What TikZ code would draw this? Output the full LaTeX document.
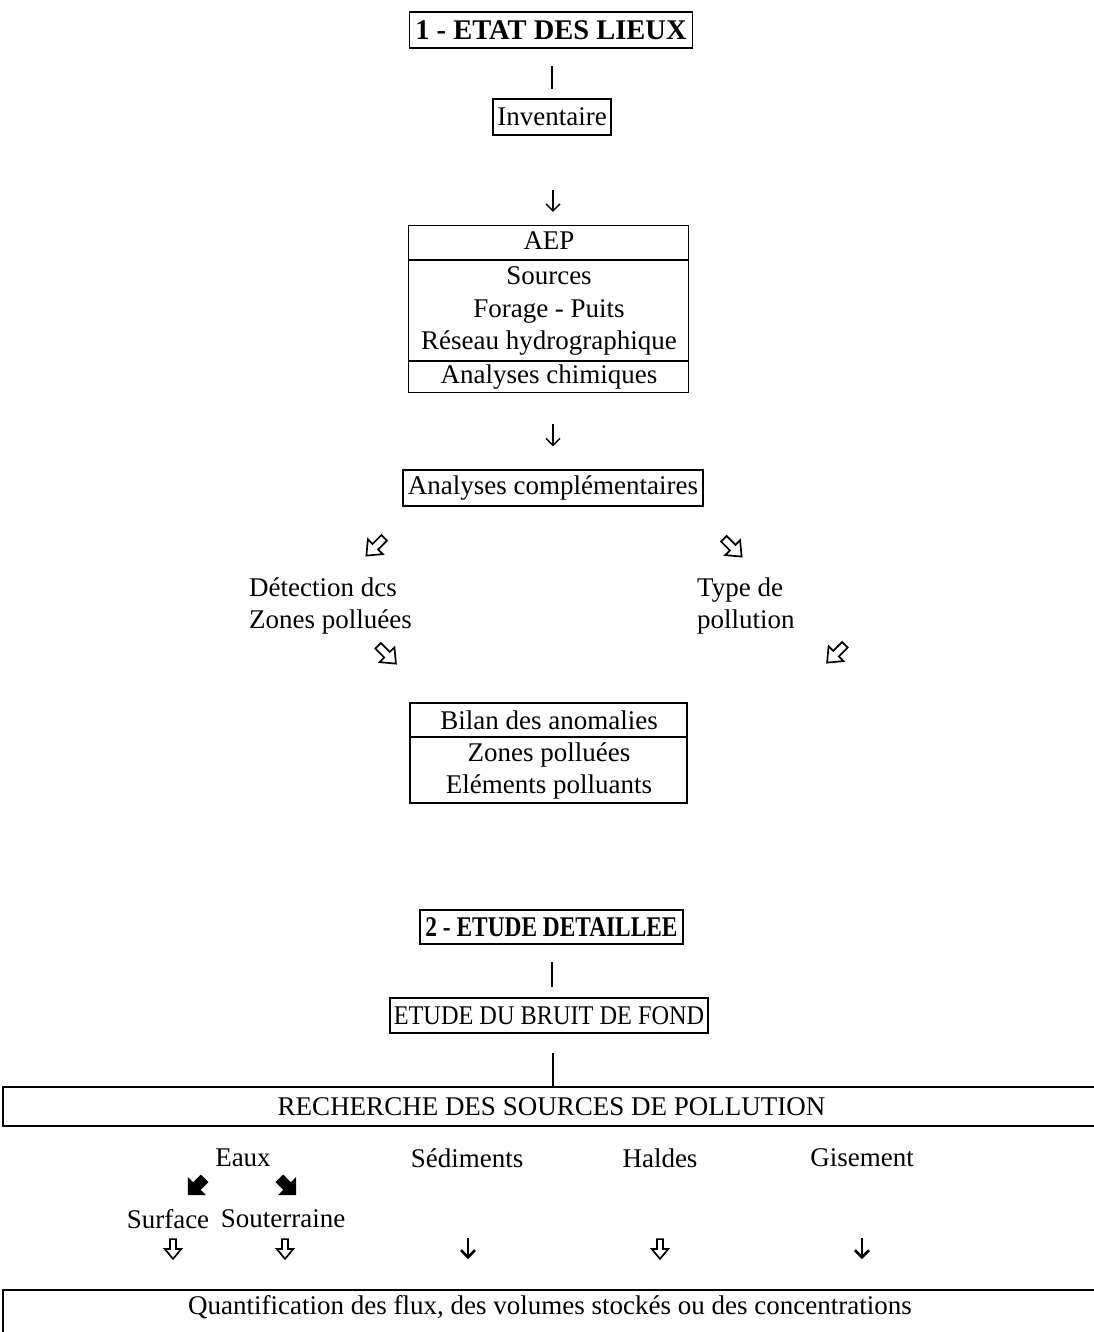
\documentclass[tikz,border=0pt]{standalone}
\usepackage{fontspec}
\usepackage{graphicx}
\setmainfont{Liberation Serif}
\usetikzlibrary{arrows.meta,calc,positioning}
\newcommand{\bigtxt}{\fontsize{27}{32.5}\selectfont}
\tikzset{
        block/.style = {draw, rectangle, line width=1.4pt,
            inner sep=0pt, font=\bigtxt},
        stage/.style = {block, line width=1.6pt, font=\fontsize{28.5}{33}\selectfont\bfseries},
        txt/.style = {inner sep=0pt, font=\bigtxt},
        link/.style = {draw, line width=1.8pt},
        arrow/.style = {draw, line width=1.4pt, -{Straight Barb[length=7pt,width=14pt]}},
        heavyarrow/.style = {arrow, line width=2.6pt},
        hollowarrow/.pic = {\draw[line width=1.7pt, line join=miter]
            (-2.8,9) -- (2.8,9) -- (2.8,0) -- (7.5,0) -- (0,-9) -- (-7.5,0) -- (-2.8,0) -- cycle;},
        blackarrow/.pic = {\fill
            (-4,8) -- (4,8) -- (4,0) -- (9.5,0) -- (0,-9.5) -- (-9.5,0) -- (-4,0) -- cycle;},
    }

\begin{document}
\begin{tikzpicture}[x=1pt, y=1pt]
    \useasboundingbox (0,0) rectangle (1093,-1332);

    % 1 - etat des lieux
    \node[stage, minimum width=283, minimum height=36] (etat) at (551,-30) {1 - ETAT DES LIEUX};
    \node[block, minimum width=118, minimum height=36] (inv) at (552,-117) {Inventaire};
    \node[block, minimum width=280, minimum height=167] (aep) at (548.5,-309) {};
    \node[txt] (aep1) at (549,-241) {AEP};
    \node[txt, align=center] (aep2) at (549,-311) {Sources\\Forage - Puits\\Réseau hydrographique};
    \node[txt] (aep3) at (549,-377) {Analyses chimiques};
    \draw[line width=1.4pt] ($(aep.west)+(0,49)$) -- ($(aep.east)+(0,49)$);
    \draw[line width=1.4pt] ($(aep.west)+(0,-52)$) -- ($(aep.east)+(0,-52)$);
    \node[block, minimum width=300, minimum height=36] (comp) at (553,-488) {Analyses complémentaires};

    \node[txt, align=left, anchor=west] (zones) at (249,-606) {Détection dcs\\Zones polluées};
    \node[txt, align=left, anchor=west] (type) at (697,-606) {Type de\\pollution};

    \node[block, minimum width=277, minimum height=100] (bilan) at (548.5,-753) {};
    \node[txt] (bilan1) at (549,-720) {Bilan des anomalies};
    \node[txt, align=center] (bilan2) at (549,-771) {Zones polluées\\Eléments polluants};
    \draw[line width=1.4pt] ($(bilan.west)+(0,16)$) -- ($(bilan.east)+(0,16)$);

    \draw[link] ($(inv.north)+(0,32)$) -- ($(inv.north)+(0,9)$);
    \draw[arrow] ($(aep.north)+(4.5,35)$) -- ($(aep.north)+(4.5,13)$);
    \draw[arrow] ($(comp.north)+(0,45)$) -- ($(comp.north)+(0,23)$);
    \pic[rotate=-45, scale=1.4] at ($(comp.south west)+(-27,-40)$) {hollowarrow};
    \pic[rotate=45, scale=1.4] at ($(comp.south east)+(29,-41)$) {hollowarrow};
    \pic[rotate=45, scale=1.4] at ($(zones.south west)+(138,-20)$) {hollowarrow};
    \pic[rotate=-45, scale=1.4] at ($(type.south west)+(139,-19)$) {hollowarrow};

    % 2 - etude detaillee
    \node[stage, minimum width=263, minimum height=34] (etude) at (551.5,-927) {\scalebox{0.82}[1]{2 - ETUDE DETAILLEE}};
    \node[block, minimum width=318, minimum height=35] (bruit) at (549,-1015.5) {\scalebox{0.9}[1]{ETUDE DU BRUIT DE FOND}};
    \node[block, minimum width=1097, minimum height=39] (rech) at (551.5,-1106.5) {RECHERCHE DES SOURCES DE POLLUTION};
    \draw[link] ($(bruit.north)+(3,35)$) -- ($(bruit.north)+(3,10)$);
    \draw[link] ($(rech.north)+(1.5,33)$) -- ($(rech.north)+(1.5,0)$);

    \node[txt] (eaux) at (243,-1158) {Eaux};
    \node[txt] (sed) at (467,-1158) {Sédiments};
    \node[txt] (haldes) at (660,-1158) {Haldes};
    \node[txt] (gis) at (862,-1158) {Gisement};
    \node[txt] (surf) at (168,-1219) {Surface};
    \node[txt] (sout) at (283,-1219) {Souterraine};

    \pic[rotate=-45, scale=1.35] at ($(eaux)+(-46,-28)$) {blackarrow};
    \pic[rotate=45, scale=1.35] at ($(eaux)+(44,-28)$) {blackarrow};
    \pic[scale=1.1] at ($(surf)+(5,-30)$) {hollowarrow};
    \pic[scale=1.1] at ($(sout)+(2,-30)$) {hollowarrow};
    \pic[scale=1.1] at ($(haldes)+(0,-91)$) {hollowarrow};
    \draw[heavyarrow] ($(sed)+(1,-80)$) -- ($(sed)+(1,-101)$);
    \draw[heavyarrow] ($(gis)+(0,-80)$) -- ($(gis)+(0,-101)$);

    \node[block, minimum width=1097, minimum height=60] (quant) at (551.5,-1320) {};
    \node[txt] (quanttxt) at (550,-1307) {Quantification des flux, des volumes stockés ou des concentrations};
\end{tikzpicture}
\end{document}
